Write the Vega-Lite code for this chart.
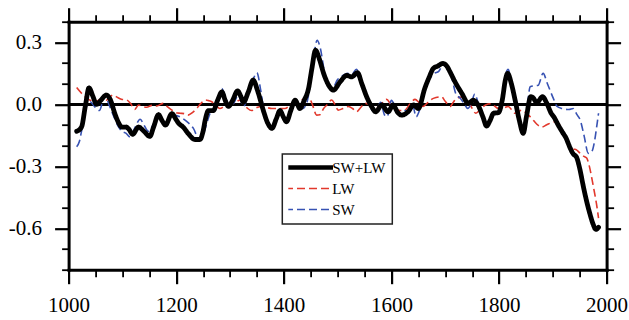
{
  "$schema": "https://vega.github.io/schema/vega-lite/v6.json",
  "width": 538,
  "height": 248,
  "autosize": {"type": "none"},
  "padding": {"left": 68.6, "top": 21.7, "right": 22.4, "bottom": 50.3},
  "background": "white",
  "config": {
    "view": {"stroke": null},
    "font": "Liberation Serif",
    "axis": {
      "grid": false,
      "title": null,
      "labelFont": "Liberation Serif",
      "labelFontSize": 21,
      "labelColor": "black",
      "labelFlush": false,
      "labelOverlap": false,
      "tickColor": "black",
      "domainColor": "black",
      "domainWidth": 3,
      "domainCap": "square"
    },
    "legend": {
      "symbolType": "stroke",
      "symbolSize": 2304,
      "clipHeight": 15,
      "labelFont": "Liberation Serif",
      "labelFontSize": 15,
      "labelColor": "black",
      "strokeColor": "#222222",
      "strokeWidth": 1.5,
      "padding": 6,
      "rowPadding": 5,
      "symbolOffset": 13.2,
      "labelOffset": 15.7,
      "fillColor": "white"
    }
  },
  "datasets": {
    "d": [
      {"s":"SW+LW","year":1015,"v":-0.13},{"s":"SW+LW","year":1024,"v":-0.11},{"s":"SW+LW","year":1031,"v":-0.01},{"s":"SW+LW","year":1038,"v":0.08},{"s":"SW+LW","year":1045,"v":0.04},{"s":"SW+LW","year":1052,"v":0.0},{"s":"SW+LW","year":1060,"v":0.02},{"s":"SW+LW","year":1070,"v":0.045},{"s":"SW+LW","year":1078,"v":0.02},{"s":"SW+LW","year":1086,"v":-0.045},{"s":"SW+LW","year":1093,"v":-0.09},{"s":"SW+LW","year":1099,"v":-0.11},{"s":"SW+LW","year":1107,"v":-0.11},{"s":"SW+LW","year":1112,"v":-0.12},{"s":"SW+LW","year":1119,"v":-0.145},{"s":"SW+LW","year":1130,"v":-0.11},{"s":"SW+LW","year":1140,"v":-0.13},{"s":"SW+LW","year":1151,"v":-0.155},{"s":"SW+LW","year":1158,"v":-0.11},{"s":"SW+LW","year":1167,"v":-0.05},{"s":"SW+LW","year":1174,"v":-0.08},{"s":"SW+LW","year":1180,"v":-0.1},{"s":"SW+LW","year":1192,"v":-0.045},{"s":"SW+LW","year":1199,"v":-0.07},{"s":"SW+LW","year":1204,"v":-0.09},{"s":"SW+LW","year":1213,"v":-0.11},{"s":"SW+LW","year":1222,"v":-0.14},{"s":"SW+LW","year":1235,"v":-0.17},{"s":"SW+LW","year":1244,"v":-0.17},{"s":"SW+LW","year":1250,"v":-0.13},{"s":"SW+LW","year":1254,"v":-0.075},{"s":"SW+LW","year":1260,"v":-0.03},{"s":"SW+LW","year":1269,"v":-0.03},{"s":"SW+LW","year":1277,"v":0.02},{"s":"SW+LW","year":1285,"v":0.06},{"s":"SW+LW","year":1291,"v":0.02},{"s":"SW+LW","year":1297,"v":-0.01},{"s":"SW+LW","year":1305,"v":0.02},{"s":"SW+LW","year":1314,"v":0.065},{"s":"SW+LW","year":1320,"v":0.04},{"s":"SW+LW","year":1325,"v":0.01},{"s":"SW+LW","year":1334,"v":0.06},{"s":"SW+LW","year":1343,"v":0.117},{"s":"SW+LW","year":1352,"v":0.06},{"s":"SW+LW","year":1362,"v":-0.03},{"s":"SW+LW","year":1370,"v":-0.09},{"s":"SW+LW","year":1378,"v":-0.116},{"s":"SW+LW","year":1386,"v":-0.07},{"s":"SW+LW","year":1393,"v":-0.03},{"s":"SW+LW","year":1399,"v":-0.06},{"s":"SW+LW","year":1405,"v":-0.084},{"s":"SW+LW","year":1413,"v":-0.03},{"s":"SW+LW","year":1421,"v":0.02},{"s":"SW+LW","year":1430,"v":-0.02},{"s":"SW+LW","year":1438,"v":0.02},{"s":"SW+LW","year":1446,"v":0.077},{"s":"SW+LW","year":1452,"v":0.17},{"s":"SW+LW","year":1459,"v":0.262},{"s":"SW+LW","year":1466,"v":0.22},{"s":"SW+LW","year":1474,"v":0.15},{"s":"SW+LW","year":1484,"v":0.09},{"s":"SW+LW","year":1492,"v":0.069},{"s":"SW+LW","year":1505,"v":0.11},{"s":"SW+LW","year":1517,"v":0.14},{"s":"SW+LW","year":1526,"v":0.133},{"s":"SW+LW","year":1537,"v":0.153},{"s":"SW+LW","year":1545,"v":0.1},{"s":"SW+LW","year":1554,"v":0.037},{"s":"SW+LW","year":1563,"v":-0.01},{"s":"SW+LW","year":1571,"v":-0.036},{"s":"SW+LW","year":1582,"v":-0.003},{"s":"SW+LW","year":1594,"v":-0.036},{"s":"SW+LW","year":1603,"v":-0.003},{"s":"SW+LW","year":1612,"v":-0.04},{"s":"SW+LW","year":1619,"v":-0.052},{"s":"SW+LW","year":1631,"v":-0.036},{"s":"SW+LW","year":1641,"v":-0.003},{"s":"SW+LW","year":1650,"v":-0.02},{"s":"SW+LW","year":1662,"v":0.077},{"s":"SW+LW","year":1670,"v":0.13},{"s":"SW+LW","year":1678,"v":0.174},{"s":"SW+LW","year":1686,"v":0.185},{"s":"SW+LW","year":1696,"v":0.198},{"s":"SW+LW","year":1703,"v":0.185},{"s":"SW+LW","year":1709,"v":0.157},{"s":"SW+LW","year":1718,"v":0.11},{"s":"SW+LW","year":1731,"v":0.053},{"s":"SW+LW","year":1743,"v":0.005},{"s":"SW+LW","year":1752,"v":0.02},{"s":"SW+LW","year":1761,"v":-0.003},{"s":"SW+LW","year":1770,"v":-0.06},{"s":"SW+LW","year":1777,"v":-0.105},{"s":"SW+LW","year":1783,"v":-0.08},{"s":"SW+LW","year":1790,"v":-0.043},{"s":"SW+LW","year":1799,"v":-0.04},{"s":"SW+LW","year":1806,"v":0.02},{"s":"SW+LW","year":1812,"v":0.12},{"s":"SW+LW","year":1816,"v":0.15},{"s":"SW+LW","year":1823,"v":0.1},{"s":"SW+LW","year":1830,"v":0.02},{"s":"SW+LW","year":1838,"v":-0.08},{"s":"SW+LW","year":1845,"v":-0.14},{"s":"SW+LW","year":1851,"v":-0.06},{"s":"SW+LW","year":1859,"v":0.037},{"s":"SW+LW","year":1864,"v":0.03},{"s":"SW+LW","year":1870,"v":0.008},{"s":"SW+LW","year":1881,"v":0.037},{"s":"SW+LW","year":1888,"v":0.01},{"s":"SW+LW","year":1897,"v":-0.043},{"s":"SW+LW","year":1903,"v":-0.065},{"s":"SW+LW","year":1910,"v":-0.1},{"s":"SW+LW","year":1918,"v":-0.135},{"s":"SW+LW","year":1925,"v":-0.165},{"s":"SW+LW","year":1932,"v":-0.21},{"s":"SW+LW","year":1938,"v":-0.24},{"s":"SW+LW","year":1944,"v":-0.255},{"s":"SW+LW","year":1950,"v":-0.31},{"s":"SW+LW","year":1957,"v":-0.4},{"s":"SW+LW","year":1963,"v":-0.47},{"s":"SW+LW","year":1969,"v":-0.53},{"s":"SW+LW","year":1975,"v":-0.58},{"s":"SW+LW","year":1980,"v":-0.605},{"s":"SW+LW","year":1985,"v":-0.595},

      {"s":"LW","year":1015,"v":0.082},{"s":"LW","year":1022,"v":0.06},{"s":"LW","year":1030,"v":0.037},{"s":"LW","year":1040,"v":0.02},{"s":"LW","year":1049,"v":0.013},{"s":"LW","year":1056,"v":0.02},{"s":"LW","year":1064,"v":0.029},{"s":"LW","year":1070,"v":0.02},{"s":"LW","year":1077,"v":0.037},{"s":"LW","year":1083,"v":0.045},{"s":"LW","year":1090,"v":0.035},{"s":"LW","year":1098,"v":0.025},{"s":"LW","year":1108,"v":0.021},{"s":"LW","year":1115,"v":0.005},{"s":"LW","year":1123,"v":-0.024},{"s":"LW","year":1130,"v":-0.003},{"s":"LW","year":1137,"v":-0.01},{"s":"LW","year":1145,"v":-0.014},{"s":"LW","year":1155,"v":-0.005},{"s":"LW","year":1164,"v":-0.008},{"s":"LW","year":1176,"v":0.005},{"s":"LW","year":1184,"v":-0.012},{"s":"LW","year":1192,"v":-0.028},{"s":"LW","year":1200,"v":-0.04},{"s":"LW","year":1207,"v":-0.043},{"s":"LW","year":1215,"v":-0.045},{"s":"LW","year":1222,"v":-0.052},{"s":"LW","year":1230,"v":-0.04},{"s":"LW","year":1238,"v":-0.02},{"s":"LW","year":1246,"v":0.005},{"s":"LW","year":1254,"v":0.021},{"s":"LW","year":1260,"v":0.018},{"s":"LW","year":1266,"v":0.013},{"s":"LW","year":1274,"v":-0.005},{"s":"LW","year":1281,"v":-0.02},{"s":"LW","year":1290,"v":-0.01},{"s":"LW","year":1300,"v":-0.003},{"s":"LW","year":1310,"v":0.01},{"s":"LW","year":1318,"v":0.02},{"s":"LW","year":1326,"v":0.0},{"s":"LW","year":1333,"v":-0.02},{"s":"LW","year":1340,"v":-0.03},{"s":"LW","year":1350,"v":-0.015},{"s":"LW","year":1359,"v":-0.01},{"s":"LW","year":1368,"v":-0.015},{"s":"LW","year":1378,"v":-0.02},{"s":"LW","year":1390,"v":-0.02},{"s":"LW","year":1402,"v":-0.02},{"s":"LW","year":1411,"v":-0.005},{"s":"LW","year":1421,"v":0.013},{"s":"LW","year":1432,"v":0.02},{"s":"LW","year":1446,"v":0.037},{"s":"LW","year":1453,"v":0.0},{"s":"LW","year":1461,"v":-0.052},{"s":"LW","year":1467,"v":-0.05},{"s":"LW","year":1474,"v":-0.02},{"s":"LW","year":1480,"v":-0.003},{"s":"LW","year":1489,"v":0.021},{"s":"LW","year":1495,"v":0.0},{"s":"LW","year":1501,"v":-0.028},{"s":"LW","year":1510,"v":-0.02},{"s":"LW","year":1520,"v":-0.01},{"s":"LW","year":1528,"v":-0.02},{"s":"LW","year":1535,"v":-0.036},{"s":"LW","year":1543,"v":-0.015},{"s":"LW","year":1551,"v":0.005},{"s":"LW","year":1562,"v":-0.005},{"s":"LW","year":1573,"v":-0.014},{"s":"LW","year":1582,"v":0.005},{"s":"LW","year":1591,"v":0.024},{"s":"LW","year":1599,"v":0.0},{"s":"LW","year":1607,"v":-0.02},{"s":"LW","year":1616,"v":-0.03},{"s":"LW","year":1625,"v":-0.028},{"s":"LW","year":1634,"v":0.0},{"s":"LW","year":1644,"v":0.024},{"s":"LW","year":1651,"v":0.01},{"s":"LW","year":1659,"v":-0.01},{"s":"LW","year":1668,"v":0.01},{"s":"LW","year":1678,"v":0.029},{"s":"LW","year":1693,"v":0.037},{"s":"LW","year":1700,"v":0.015},{"s":"LW","year":1709,"v":-0.01},{"s":"LW","year":1715,"v":0.01},{"s":"LW","year":1721,"v":0.03},{"s":"LW","year":1730,"v":0.035},{"s":"LW","year":1740,"v":0.02},{"s":"LW","year":1748,"v":-0.01},{"s":"LW","year":1757,"v":-0.043},{"s":"LW","year":1765,"v":-0.025},{"s":"LW","year":1775,"v":-0.003},{"s":"LW","year":1785,"v":0.003},{"s":"LW","year":1799,"v":-0.02},{"s":"LW","year":1808,"v":-0.018},{"s":"LW","year":1817,"v":-0.01},{"s":"LW","year":1830,"v":-0.043},{"s":"LW","year":1842,"v":-0.028},{"s":"LW","year":1852,"v":-0.045},{"s":"LW","year":1861,"v":-0.068},{"s":"LW","year":1870,"v":-0.095},{"s":"LW","year":1879,"v":-0.11},{"s":"LW","year":1888,"v":-0.1},{"s":"LW","year":1898,"v":-0.088},{"s":"LW","year":1907,"v":-0.084},{"s":"LW","year":1913,"v":-0.1},{"s":"LW","year":1917,"v":-0.124},{"s":"LW","year":1925,"v":-0.165},{"s":"LW","year":1932,"v":-0.205},{"s":"LW","year":1938,"v":-0.215},{"s":"LW","year":1944,"v":-0.22},{"s":"LW","year":1950,"v":-0.235},{"s":"LW","year":1957,"v":-0.25},{"s":"LW","year":1963,"v":-0.26},{"s":"LW","year":1968,"v":-0.3},{"s":"LW","year":1972,"v":-0.35},{"s":"LW","year":1977,"v":-0.42},{"s":"LW","year":1981,"v":-0.478},{"s":"LW","year":1985,"v":-0.55},

      {"s":"SW","year":1015,"v":-0.205},{"s":"SW","year":1020,"v":-0.18},{"s":"SW","year":1024,"v":-0.13},{"s":"SW","year":1030,"v":-0.036},{"s":"SW","year":1040,"v":0.013},{"s":"SW","year":1048,"v":-0.01},{"s":"SW","year":1057,"v":-0.03},{"s":"SW","year":1068,"v":0.045},{"s":"SW","year":1075,"v":0.0},{"s":"SW","year":1083,"v":-0.052},{"s":"SW","year":1091,"v":-0.1},{"s":"SW","year":1099,"v":-0.13},{"s":"SW","year":1107,"v":-0.14},{"s":"SW","year":1114,"v":-0.157},{"s":"SW","year":1122,"v":-0.12},{"s":"SW","year":1133,"v":-0.072},{"s":"SW","year":1140,"v":-0.1},{"s":"SW","year":1148,"v":-0.13},{"s":"SW","year":1157,"v":-0.1},{"s":"SW","year":1167,"v":-0.052},{"s":"SW","year":1174,"v":-0.07},{"s":"SW","year":1182,"v":-0.092},{"s":"SW","year":1195,"v":-0.052},{"s":"SW","year":1207,"v":-0.06},{"s":"SW","year":1220,"v":-0.084},{"s":"SW","year":1232,"v":-0.116},{"s":"SW","year":1243,"v":-0.172},{"s":"SW","year":1250,"v":-0.148},{"s":"SW","year":1257,"v":-0.09},{"s":"SW","year":1263,"v":-0.043},{"s":"SW","year":1270,"v":-0.02},{"s":"SW","year":1278,"v":0.03},{"s":"SW","year":1285,"v":0.077},{"s":"SW","year":1292,"v":0.03},{"s":"SW","year":1300,"v":-0.01},{"s":"SW","year":1308,"v":0.01},{"s":"SW","year":1315,"v":0.045},{"s":"SW","year":1320,"v":0.02},{"s":"SW","year":1325,"v":-0.01},{"s":"SW","year":1335,"v":0.06},{"s":"SW","year":1343,"v":0.12},{"s":"SW","year":1350,"v":0.153},{"s":"SW","year":1357,"v":0.07},{"s":"SW","year":1363,"v":-0.03},{"s":"SW","year":1370,"v":-0.1},{"s":"SW","year":1378,"v":-0.11},{"s":"SW","year":1386,"v":-0.07},{"s":"SW","year":1393,"v":-0.03},{"s":"SW","year":1400,"v":-0.07},{"s":"SW","year":1405,"v":-0.08},{"s":"SW","year":1413,"v":-0.02},{"s":"SW","year":1421,"v":0.02},{"s":"SW","year":1428,"v":-0.01},{"s":"SW","year":1435,"v":-0.02},{"s":"SW","year":1442,"v":0.0},{"s":"SW","year":1448,"v":0.08},{"s":"SW","year":1455,"v":0.22},{"s":"SW","year":1462,"v":0.31},{"s":"SW","year":1468,"v":0.27},{"s":"SW","year":1476,"v":0.15},{"s":"SW","year":1484,"v":0.08},{"s":"SW","year":1490,"v":0.075},{"s":"SW","year":1500,"v":0.12},{"s":"SW","year":1510,"v":0.14},{"s":"SW","year":1518,"v":0.15},{"s":"SW","year":1526,"v":0.145},{"s":"SW","year":1535,"v":0.17},{"s":"SW","year":1543,"v":0.11},{"s":"SW","year":1552,"v":0.04},{"s":"SW","year":1562,"v":-0.02},{"s":"SW","year":1570,"v":-0.04},{"s":"SW","year":1580,"v":0.01},{"s":"SW","year":1587,"v":-0.05},{"s":"SW","year":1592,"v":-0.06},{"s":"SW","year":1600,"v":0.02},{"s":"SW","year":1607,"v":-0.01},{"s":"SW","year":1615,"v":-0.04},{"s":"SW","year":1625,"v":-0.03},{"s":"SW","year":1633,"v":-0.04},{"s":"SW","year":1640,"v":-0.01},{"s":"SW","year":1646,"v":-0.06},{"s":"SW","year":1652,"v":-0.03},{"s":"SW","year":1660,"v":0.06},{"s":"SW","year":1670,"v":0.12},{"s":"SW","year":1680,"v":0.15},{"s":"SW","year":1688,"v":0.16},{"s":"SW","year":1696,"v":0.19},{"s":"SW","year":1705,"v":0.17},{"s":"SW","year":1712,"v":0.13},{"s":"SW","year":1720,"v":0.05},{"s":"SW","year":1728,"v":0.03},{"s":"SW","year":1736,"v":0.0},{"s":"SW","year":1742,"v":-0.02},{"s":"SW","year":1749,"v":0.01},{"s":"SW","year":1755,"v":0.05},{"s":"SW","year":1762,"v":0.0},{"s":"SW","year":1770,"v":-0.06},{"s":"SW","year":1778,"v":-0.09},{"s":"SW","year":1787,"v":-0.05},{"s":"SW","year":1798,"v":-0.03},{"s":"SW","year":1806,"v":0.04},{"s":"SW","year":1812,"v":0.14},{"s":"SW","year":1817,"v":0.17},{"s":"SW","year":1823,"v":0.1},{"s":"SW","year":1830,"v":0.02},{"s":"SW","year":1838,"v":-0.07},{"s":"SW","year":1845,"v":-0.13},{"s":"SW","year":1852,"v":-0.02},{"s":"SW","year":1858,"v":0.085},{"s":"SW","year":1866,"v":0.09},{"s":"SW","year":1873,"v":0.093},{"s":"SW","year":1882,"v":0.15},{"s":"SW","year":1890,"v":0.1},{"s":"SW","year":1901,"v":0.029},{"s":"SW","year":1908,"v":-0.01},{"s":"SW","year":1917,"v":-0.02},{"s":"SW","year":1930,"v":-0.025},{"s":"SW","year":1938,"v":-0.02},{"s":"SW","year":1945,"v":-0.05},{"s":"SW","year":1951,"v":-0.076},{"s":"SW","year":1958,"v":-0.15},{"s":"SW","year":1966,"v":-0.237},{"s":"SW","year":1972,"v":-0.23},{"s":"SW","year":1978,"v":-0.172},{"s":"SW","year":1982,"v":-0.1},{"s":"SW","year":1985,"v":-0.043}
    ]
  },
  "data": {"name": "d"},
  "resolve": {"axis": {"x": "independent", "y": "independent"}},
  "layer": [
    {
      "mark": {"type": "rule", "color": "black", "strokeWidth": 2.3},
      "encoding": {
        "y": {"datum": 0, "type": "quantitative", "scale": {"domain": [-0.8, 0.4], "nice": false, "zero": false},
          "axis": {"orient": "right", "values": [-0.8,-0.7,-0.5,-0.4,-0.2,-0.1,0.1,0.2,0.4], "tickSize": 7, "tickWidth": 1.8, "labels": false, "domain": false}},
        "x": {"datum": 1000, "type": "quantitative", "scale": {"domain": [1000, 2000], "nice": false, "zero": false},
          "axis": {"orient": "top", "values": [1050,1100,1150,1250,1300,1350,1450,1500,1550,1650,1700,1750,1850,1900,1950], "tickSize": 7, "tickWidth": 1.8, "labels": false, "domain": false}},
        "x2": {"datum": 2000}
      }
    },
    {
      "transform": [{"filter": "datum.s === 'LW'"}],
      "mark": {"type": "line", "interpolate": "monotone", "strokeWidth": 1.6},
      "encoding": {
        "x": {"field": "year", "type": "quantitative", "scale": {"domain": [1000, 2000], "nice": false, "zero": false},
          "axis": {"orient": "bottom", "values": [1050,1100,1150,1250,1300,1350,1450,1500,1550,1650,1700,1750,1850,1900,1950], "tickSize": 7, "tickWidth": 1.8, "labels": false, "domain": false}},
        "y": {"field": "v", "type": "quantitative", "scale": {"domain": [-0.8, 0.4], "nice": false, "zero": false},
          "axis": {"orient": "left", "values": [-0.8,-0.7,-0.5,-0.4,-0.2,-0.1,0.1,0.2,0.4], "tickSize": 7, "tickWidth": 1.8, "labels": false, "domain": false}},
        "color": {"field": "s", "type": "nominal", "scale": {"domain": ["SW+LW","LW","SW"], "range": ["#000000","#e2382c","#3752b3"]},
          "legend": {"orient": "none", "legendX": 213.7, "legendY": 132.3, "title": null,
            "encode": {"symbols": {"update": {"strokeWidth": {"signal": "datum.value === 'SW+LW' ? 4.5 : 1.6"}}}}}},
        "strokeDash": {"field": "s", "type": "nominal", "scale": {"domain": ["SW+LW","LW","SW"], "range": [[1,0],[8,4],[8,4]]},
          "legend": {"orient": "none", "legendX": 213.7, "legendY": 132.3, "title": null,
            "encode": {"symbols": {"update": {"strokeWidth": {"signal": "datum.value === 'SW+LW' ? 4.5 : 1.6"}}}}}}
      }
    },
    {
      "transform": [{"filter": "datum.s === 'SW'"}],
      "mark": {"type": "line", "interpolate": "monotone", "strokeWidth": 1.6},
      "encoding": {
        "x": {"field": "year", "type": "quantitative", "scale": {"domain": [1000, 2000], "nice": false, "zero": false},
          "axis": {"orient": "top", "values": [1000,1200,1400,1600,1800,2000], "tickSize": 14, "tickWidth": 2.2, "labels": false, "domain": true}},
        "y": {"field": "v", "type": "quantitative", "scale": {"domain": [-0.8, 0.4], "nice": false, "zero": false},
          "axis": {"orient": "right", "values": [-0.6,-0.3,0,0.3], "tickSize": 14, "tickWidth": 2.2, "labels": false, "domain": true}},
        "color": {"field": "s", "type": "nominal"},
        "strokeDash": {"field": "s", "type": "nominal"}
      }
    },
    {
      "transform": [{"filter": "datum.s === 'SW+LW'"}],
      "mark": {"type": "line", "interpolate": "monotone", "strokeWidth": 4.8, "strokeCap": "round", "strokeJoin": "round"},
      "encoding": {
        "x": {"field": "year", "type": "quantitative", "scale": {"domain": [1000, 2000], "nice": false, "zero": false},
          "axis": {"orient": "bottom", "values": [1000,1200,1400,1600,1800,2000], "format": "d", "tickSize": 14, "tickWidth": 2.2, "labelPadding": 11, "labelFont": "Liberation Serif", "labelFlush": false, "domain": true}},
        "y": {"field": "v", "type": "quantitative", "scale": {"domain": [-0.8, 0.4], "nice": false, "zero": false},
          "axis": {"orient": "left", "values": [-0.6,-0.3,0,0.3], "tickSize": 14, "tickWidth": 2.2, "labelPadding": 13, "labelFont": "Liberation Serif", "labelFlush": false, "labelExpr": "replace(format(datum.value, '.1f'), '\u2212', '-')", "domain": true}},
        "color": {"field": "s", "type": "nominal"},
        "strokeDash": {"field": "s", "type": "nominal"}
      }
    }
  ]
}
